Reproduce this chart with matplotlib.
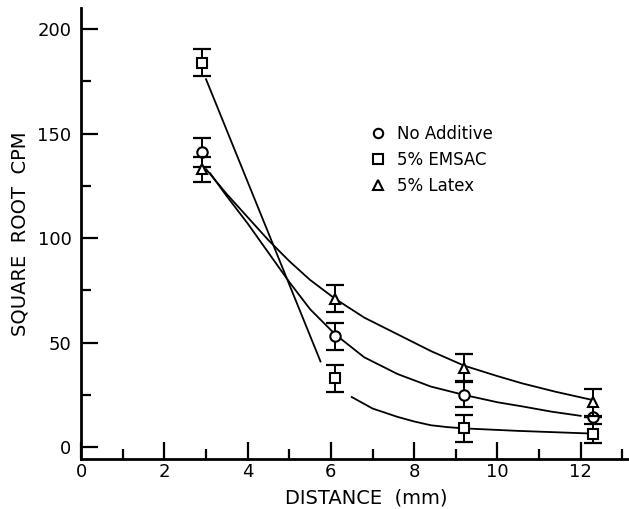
import numpy as np
import matplotlib.pyplot as plt
from matplotlib.ticker import MultipleLocator

# measured points (distance in mm, square root cpm, error half-width)
dist = [2.9, 6.1, 9.2, 12.3]

no_add = [141, 53, 25, 14.5]
no_add_err = [7, 6.5, 6, 0]

emsac = [184, 33, 9, 6.5]
emsac_err = [6.5, 6.5, 6.5, 4.5]

latex = [133, 71, 38, 21.5]
latex_err = [6, 6.5, 6.5, 6.5]

# hand-drawn fit curves
latex_fit_x = [3.0, 3.5, 4.0, 4.5, 5.0, 5.5, 6.1, 6.8, 7.6, 8.4, 9.2, 10.0, 10.6, 11.4, 12.3]
latex_fit_y = [133, 121, 110, 99, 89, 80, 71, 62, 54, 46, 39, 34, 30.5, 26.5, 22.5]

no_add_fit_x = [3.1, 3.5, 4.0, 4.5, 5.0, 5.5, 6.1, 6.8, 7.6, 8.4, 9.2, 10.0, 10.6, 11.3, 12.0]
no_add_fit_y = [131, 120, 107, 93, 79, 66, 54, 43, 35, 29, 25, 21.5, 19.5, 17, 15]

emsac_fit1_x = [3.0, 5.75]
emsac_fit1_y = [176, 41]
emsac_fit2_x = [6.5, 7.0, 7.6, 8.0, 8.4, 8.8, 9.2, 10.5, 12.3]
emsac_fit2_y = [24, 18.5, 14.5, 12.3, 10.5, 9.6, 9, 7.8, 6.5]

plt.rcParams['font.family'] = ['DejaVu Sans']

fig = plt.figure(figsize=(6.29, 5.09), dpi=100)
ax = fig.add_axes([0.129, 0.098, 0.871, 0.886])

lw = 1.3
ax.plot(latex_fit_x, latex_fit_y, 'k-', lw=lw)
ax.plot(no_add_fit_x, no_add_fit_y, 'k-', lw=lw)
ax.plot(emsac_fit1_x, emsac_fit1_y, 'k-', lw=lw)
ax.plot(emsac_fit2_x, emsac_fit2_y, 'k-', lw=lw)

for vals, errs, mk, lab in [(no_add, no_add_err, 'o', 'No Additive'),
                            (emsac, emsac_err, 's', '5% EMSAC'),
                            (latex, latex_err, '^', '5% Latex')]:
    ax.errorbar(dist, vals, yerr=errs, fmt='none', ecolor='k', elinewidth=1.4,
                capsize=6.5, capthick=1.6)
    ax.plot(dist, vals, ls='none', marker=mk, ms=7.5, mfc='white', mec='k',
            mew=1.5, label=lab)

ax.set_xlim(0, 13.16)
ax.set_ylim(-5.7, 210)

for s in ['top', 'right']:
    ax.spines[s].set_visible(False)
for s in ['left', 'bottom']:
    ax.spines[s].set_linewidth(2)

ax.set_xticks([0, 2, 4, 6, 8, 10, 12])
ax.xaxis.set_minor_locator(MultipleLocator(1))
ax.set_yticks([0, 50, 100, 150, 200])
ax.yaxis.set_minor_locator(MultipleLocator(25))
ax.tick_params(which='major', direction='in', length=12, width=1.6, labelsize=13, pad=7)
ax.tick_params(which='minor', direction='in', length=7, width=1.6)
ax.tick_params(axis='x', which='major', pad=3)

ax.set_xlabel('DISTANCE  (mm)', fontsize=14)
ax.xaxis.set_label_coords(0.52, -0.065)
ax.set_ylabel('SQUARE  ROOT  CPM', fontsize=14)
ax.yaxis.set_label_coords(-0.095, 0.5)

ax.legend(loc='upper left', bbox_to_anchor=(0.5, 0.775), frameon=False,
          fontsize=12, handlelength=1, handletextpad=0.6, labelspacing=0.5,
          markerscale=0.9)

fig.savefig('out.png', dpi=100)
